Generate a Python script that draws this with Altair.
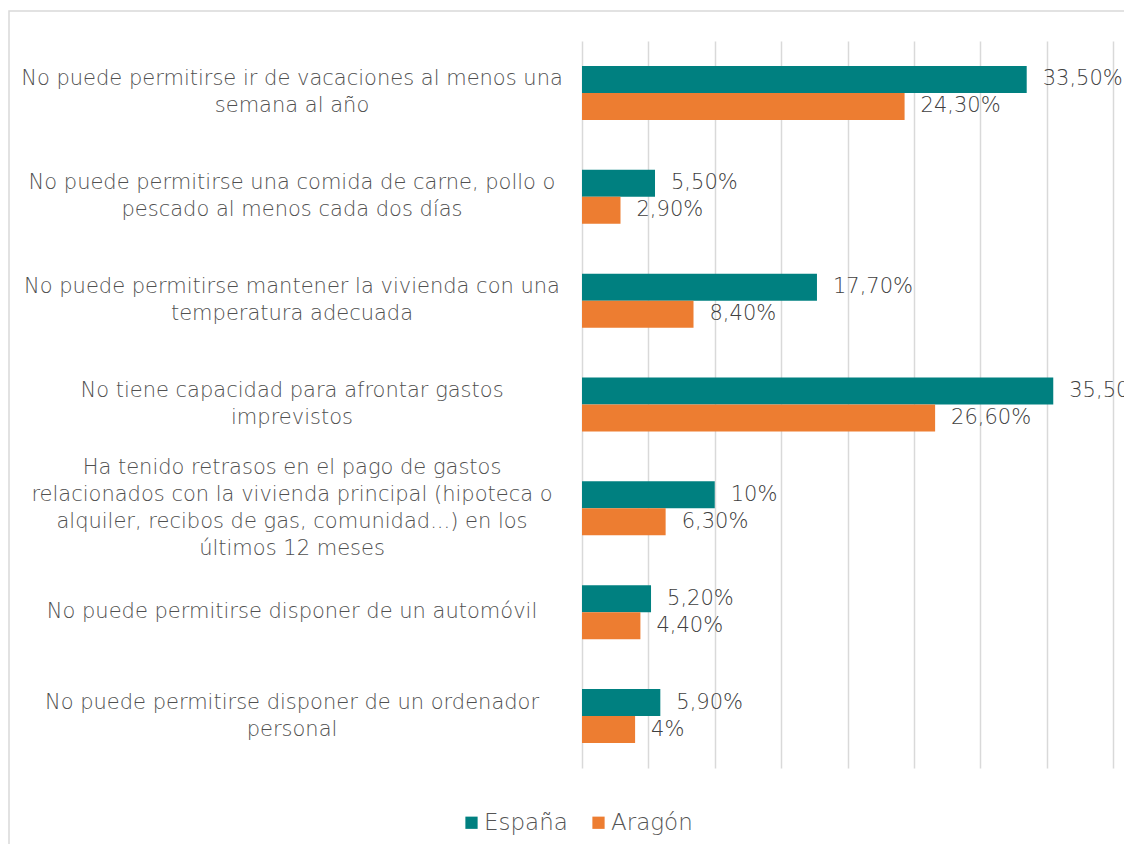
import altair as alt
import pandas as pd

categorias = [
    "No puede permitirse ir de vacaciones al menos una\nsemana al año",
    "No puede permitirse una comida de carne, pollo o\npescado al menos cada dos días",
    "No puede permitirse mantener la vivienda con una\ntemperatura adecuada",
    "No tiene capacidad para afrontar gastos\nimprevistos",
    "Ha tenido retrasos en el pago de gastos\nrelacionados con la vivienda principal (hipoteca o\nalquiler, recibos de gas, comunidad...) en los\núltimos 12 meses",
    "No puede permitirse disponer de un automóvil",
    "No puede permitirse disponer de un ordenador\npersonal",
]
series = ["España", "Aragón"]
espana = [33.5, 5.5, 17.7, 35.5, 10, 5.2, 5.9]
aragon = [24.3, 2.9, 8.4, 26.6, 6.3, 4.4, 4.0]
etiquetas_espana = ["33,50%", "5,50%", "17,70%", "35,50%", "10%", "5,20%", "5,90%"]
etiquetas_aragon = ["24,30%", "2,90%", "8,40%", "26,60%", "6,30%", "4,40%", "4%"]
colores = ["#008080", "#ED7D31"]

rows = []
for i, c in enumerate(categorias):
    rows.append({"cat": c, "serie": "España", "valor": espana[i], "etiqueta": etiquetas_espana[i]})
    rows.append({"cat": c, "serie": "Aragón", "valor": aragon[i], "etiqueta": etiquetas_aragon[i]})
df = pd.DataFrame(rows)
df_cat = pd.DataFrame({"cat": categorias, "n": [c.count("\n") + 1 for c in categorias]})

FONT = "DejaVu Sans"
LH = 27

yenc = alt.Y("cat:N", sort=categorias, axis=None,
             scale=alt.Scale(paddingInner=0.48, paddingOuter=0.24))
yoff = alt.YOffset("serie:N", sort=series)

base = alt.Chart(df)

bars = base.mark_bar().encode(
    y=yenc,
    yOffset=yoff,
    x=alt.X("valor:Q", scale=alt.Scale(domain=[0, 40]),
            axis=alt.Axis(values=list(range(0, 45, 5)), labels=False, ticks=False,
                          domain=False, grid=True, gridColor="#d9d9d9", gridWidth=1.5,
                          title=None)),
    color=alt.Color("serie:N", sort=series,
                    scale=alt.Scale(domain=series, range=colores),
                    legend=alt.Legend(title=None, orient="none", direction="horizontal",
                                      legendX=-122, legendY=770, symbolType="square",
                                      symbolSize=150, symbolStrokeWidth=0,
                                      labelFontSize=23, labelColor="#555555", labelFont=FONT,
                                      labelFontWeight=300,
                                      columnPadding=19, labelOffset=1)),
)

valores = base.mark_text(align="left", baseline="middle", dx=16, fontSize=21,
                         color="#404040", font=FONT, fontWeight=300).encode(
    y=yenc, yOffset=yoff, x="valor:Q", text="etiqueta:N"
)

cat_layers = []
for n in sorted(set(df_cat["n"])):
    cat_layers.append(
        alt.Chart(df_cat).transform_filter(alt.datum.n == n).mark_text(
            align="center", baseline="middle", lineBreak="\n", lineHeight=LH,
            fontSize=21, color="#505050", font=FONT, fontWeight=300,
            dy=-(n - 1) * LH / 2,
        ).encode(
            y=alt.Y("cat:N", sort=categorias, axis=None),
            x=alt.value(-290),
            text="cat:N",
        )
    )

marco = alt.Chart(pd.DataFrame({"a": [0]})).mark_rect(fill=None, stroke="#d9d9d9",
                                                      strokeWidth=1.5).encode(
    x=alt.value(-573), x2=alt.value(600), y=alt.value(-30), y2=alt.value(900)
)

chart = alt.layer(marco, bars, valores, *cat_layers).properties(
    width=531, height=727,
    autosize=alt.AutoSizeParams(type="none"),
    padding={"left": 574, "top": 33, "right": 11, "bottom": 76},
).configure(font=FONT).configure_view(stroke=None)

chart.save("out.html", embed_options={"renderer": "svg", "actions": False})
